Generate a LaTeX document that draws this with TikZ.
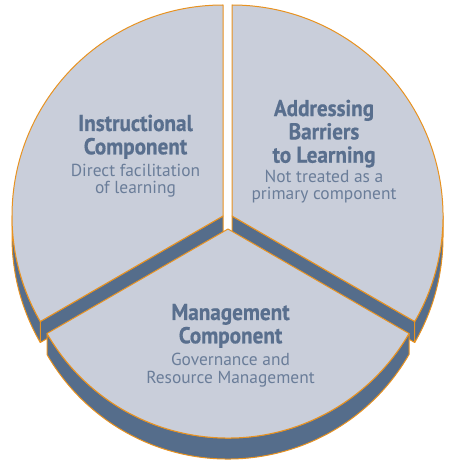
\documentclass[tikz,border=0pt]{standalone}
\usepackage{fontspec}
\setmainfont{PT Sans}
\newfontfamily\headfont[FakeStretch=0.92,FakeBold=0.6]{PT Sans}
\usepackage{tikz}
\usetikzlibrary{positioning}
\definecolor{paneFill}{RGB}{201,206,218}
\definecolor{slabBlue}{RGB}{85,109,139}
\definecolor{rimOrange}{RGB}{232,146,32}
\definecolor{labelBlue}{RGB}{89,111,142}
\tikzset{face/.style={fill=paneFill,draw=rimOrange,line width=1pt,line join=round}}
\tikzset{slab/.style={fill=slabBlue,draw=rimOrange,line width=1pt,line join=round}}
\tikzset{heading/.style={font=\headfont\bfseries\fontsize{23}{23.3}\selectfont,text=labelBlue,align=center,inner sep=0pt,anchor=base}}
\tikzset{blurb/.style={font=\fontsize{17.4}{17.8}\selectfont,text=labelBlue!90,align=center,inner sep=0pt,anchor=base}}

\begin{document}
\begin{tikzpicture}[x=1pt,y=1pt]
\useasboundingbox (0,0) rectangle (454,461);
\coordinate (cL) at (223,245);
\coordinate (cR) at (232,245);
\coordinate (cB) at (228,232);
% instructional piece
\draw[slab] (cL) -- ++(210:211pt) -- ++(0,-21pt) -- ++(30:211pt) -- cycle;
\draw[slab] (cL) ++(180:211pt) arc[start angle=180,end angle=210,radius=211pt] -- ++(0,-21pt) arc[start angle=210,end angle=180,radius=211pt] -- cycle;
\draw[face] (cL) -- +(90:211pt) arc[start angle=90,end angle=210,radius=211pt] -- cycle;
% barriers piece
\draw[slab] (cR) -- ++(-30:211pt) -- ++(0,-21pt) -- ++(150:211pt) -- cycle;
\draw[slab] (cR) ++(-30:211pt) arc[start angle=-30,end angle=0,radius=211pt] -- ++(0,-21pt) arc[start angle=0,end angle=-30,radius=211pt] -- cycle;
\draw[face] (cR) -- +(-30:211pt) arc[start angle=-30,end angle=90,radius=211pt] -- cycle;
% management piece
\draw[slab] (cB) ++(210:209pt) arc[start angle=210,end angle=330,radius=209pt] -- ++(0,-21pt) arc[start angle=330,end angle=210,radius=209pt] -- cycle;
\draw[face] (cB) -- +(210:209pt) arc[start angle=210,end angle=330,radius=209pt] -- cycle;
% labels (base = last line)
\node[heading] (instrTitle) at (135.5,306.7) {Instructional\\Component};
\node[blurb] (instrText) at (135.5,267) {Direct facilitation\\of learning};
\node[heading] (barrTitle) at (324,298.3) {Addressing\\Barriers\\to Learning};
\node[blurb] (barrText) at (324,261) {Not treated as a\\primary component};
\node[heading] (mgmtTitle) at (230.5,117.7) {Management\\Component};
\node[blurb] (mgmtText) at (230.5,77.7) {Governance and\\Resource Management};
\end{tikzpicture}
\end{document}
